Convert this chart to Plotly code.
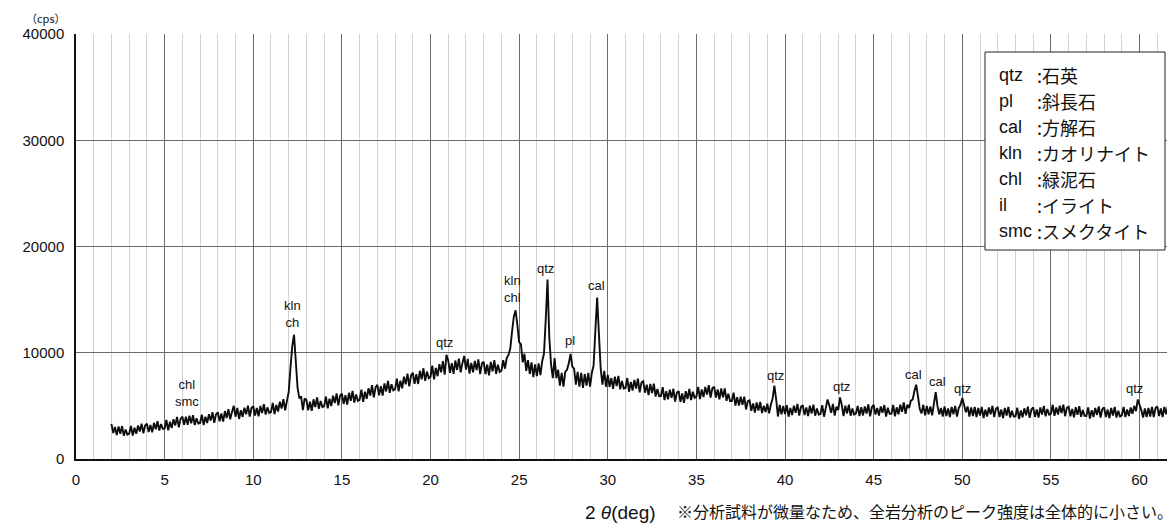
import plotly.graph_objects as go

# ---- data ----
# intensity (cps) sampled every 0.1 deg of 2-theta starting at 2.0 deg; one row per degree
intensity_rows = [
    [3300, 2440, 3020, 2250, 3060, 2380, 3100, 2180, 2780, 2300],  # 2
    [2380, 3120, 2200, 2940, 2370, 3160, 2590, 3330, 2410, 3150],  # 3
    [3320, 2540, 3200, 2510, 3400, 2800, 3550, 2680, 3290, 2830],  # 4
    [2880, 3680, 2700, 3500, 2910, 3750, 3160, 3960, 2980, 3780],  # 5
    [3980, 3220, 3990, 3220, 4080, 3360, 4130, 3190, 3830, 3330],  # 6
    [3390, 4180, 3190, 3980, 3380, 4210, 3610, 4400, 3410, 4200],  # 7
    [4400, 3540, 4280, 3520, 4510, 3850, 4690, 3730, 4420, 5000],  # 8
    [3980, 4800, 3770, 4590, 3960, 4830, 4200, 5020, 3990, 4800],  # 9
    [4960, 4080, 4800, 4020, 4990, 4320, 5150, 4180, 4860, 4340],  # 10
    [4410, 5280, 4230, 5100, 4470, 5390, 4750, 5630, 4580, 5470],  # 11
    [6300, 8600, 10600, 11700, 9200, 6700, 5700, 5900, 4600, 5700],  # 12
    [5550, 4590, 5390, 4540, 5620, 4880, 5790, 4720, 5460, 4890],  # 13
    [4970, 5880, 4760, 5670, 4980, 5950, 5260, 6170, 5050, 5960],  # 14
    [6160, 5180, 6000, 5130, 6230, 5470, 6400, 5310, 6070, 5480],  # 15
    [5560, 6520, 5380, 6340, 5650, 6670, 5970, 6940, 5790, 6750],  # 16
    [6980, 5990, 6850, 5970, 7120, 6360, 7340, 6230, 7030, 6450],  # 17
    [6540, 7560, 6360, 7380, 6660, 7740, 7020, 8040, 6840, 7860],  # 18
    [8120, 7070, 7990, 7060, 8300, 7490, 8540, 7360, 8230, 7610],  # 19
    [7720, 8790, 7500, 8570, 7790, 8930, 8150, 9220, 7930, 9800],  # 20
    [9250, 8100, 9030, 8010, 9270, 8380, 9440, 8160, 9020, 9700],  # 21
    [8410, 9420, 8030, 9040, 8160, 9240, 8360, 9370, 7980, 8990],  # 22
    [9150, 7980, 8890, 7870, 9130, 8240, 9300, 8020, 8880, 8190],  # 23
    [8300, 9300, 8500, 9500, 9800, 10400, 12000, 13400, 14000, 12600],  # 24
    [11000, 10800, 9100, 9900, 8300, 9300, 8000, 9100, 7700, 8900],  # 25
    [7800, 9000, 7900, 9200, 9900, 13100, 16900, 11500, 8900, 7600],  # 26
    [9500, 7600, 8400, 6900, 8100, 6800, 8200, 8400, 9000, 9900],  # 27
    [8700, 8500, 7000, 8200, 6800, 8100, 6700, 8000, 6900, 8100],  # 28
    [6800, 8100, 8800, 12100, 15200, 11800, 8500, 7000, 8300, 6800],  # 29
    [7920, 6780, 7620, 6600, 7760, 6860, 7830, 6560, 7350, 6640],  # 30
    [6690, 7620, 6330, 7260, 6450, 7440, 6630, 7560, 6270, 7200],  # 31
    [7330, 6240, 7000, 6020, 7070, 6210, 7090, 5880, 6580, 5900],  # 32
    [5920, 6760, 5540, 6380, 5610, 6530, 5760, 6610, 5400, 6250],  # 33
    [6390, 5370, 6160, 5280, 6390, 5650, 6600, 5540, 6330, 5760],  # 34
    [5870, 6790, 5640, 6540, 5820, 6790, 6060, 6950, 5770, 6650],  # 35
    [6810, 5780, 6540, 5610, 6640, 5800, 6650, 5470, 6140, 5460],  # 36
    [5460, 6240, 5030, 5810, 5030, 5870, 5090, 5870, 4660, 5440],  # 37
    [5510, 4540, 5220, 4360, 5320, 4570, 5380, 4330, 5000, 4420],  # 38
    [5200, 4300, 5100, 5700, 6900, 5600, 4000, 5100, 4200, 5000],  # 39
    [4240, 5070, 3980, 4810, 4140, 5020, 4340, 5180, 4080, 4920],  # 40
    [5070, 4140, 4860, 4030, 5020, 4290, 5120, 4080, 4760, 4190],  # 41
    [4240, 5070, 3980, 4810, 5600, 5020, 4340, 5180, 4080, 4920],  # 42
    [4600, 5800, 5100, 4030, 5020, 4290, 5120, 4080, 4760, 4190],  # 43
    [4300, 5000, 4050, 4880, 4100, 4950, 4280, 5150, 4020, 4870],  # 44
    [5100, 4200, 4800, 4080, 4950, 4350, 5080, 4000, 4820, 4250],  # 45
    [4250, 5090, 4010, 4860, 4210, 5110, 4450, 5320, 4250, 5120],  # 46
    [4800, 5500, 5600, 6400, 7000, 5900, 4700, 4300, 5100, 4100],  # 47
    [5000, 4200, 4950, 4100, 5200, 6300, 5000, 4200, 4800, 4000],  # 48
    [4950, 4050, 4750, 3950, 4900, 4200, 5000, 4000, 4800, 5100],  # 49
    [5750, 5100, 4400, 4950, 4000, 4850, 4050, 4900, 3950, 4800],  # 50
    [4100, 4900, 3850, 4650, 4000, 4850, 4200, 5000, 3950, 4750],  # 51
    [4850, 3950, 4650, 3850, 4800, 4100, 4900, 3900, 4550, 4000],  # 52
    [4020, 4820, 3770, 4570, 3920, 4770, 4120, 4920, 3870, 4670],  # 53
    [4850, 3960, 4670, 3890, 4860, 4180, 5000, 4020, 4700, 4180],  # 54
    [4280, 5100, 4060, 4850, 4180, 5010, 4330, 5110, 4030, 4810],  # 55
    [4920, 4020, 4720, 3920, 4870, 4170, 4970, 3970, 4620, 4070],  # 56
    [4050, 4850, 3800, 4600, 3950, 4800, 4150, 4950, 3900, 4700],  # 57
    [4850, 3950, 4650, 3850, 4800, 4100, 4900, 3900, 4550, 4000],  # 58
    [4100, 4900, 3950, 4650, 4050, 4850, 4250, 5000, 4500, 5600],  # 59
    [5100, 4600, 3900, 4750, 3950, 4800, 4000, 4900, 3950, 4800],  # 60
    [4950, 4050, 4750, 3950, 4900, 4200, 5000, 4000, 4650, 4100],  # 61
    [4600],                                                        # 62
]
start_deg = 2.0
step_deg = 0.1

# peak labels
peak_labels = ["chl<br>smc", "kln<br>ch", "qtz", "kln<br>chl", "qtz", "pl", "cal",
               "qtz", "qtz", "cal", "cal", "qtz", "qtz"]
peak_label_x = [6.26, 12.2, 20.8, 24.6, 26.5, 27.85, 29.35,
                39.45, 43.2, 47.25, 48.6, 50.0, 59.7]
peak_label_y = [6200, 13650, 11000, 16000, 17950, 11200, 16350,
                7900, 6800, 8000, 7250, 6600, 6650]

# mineral legend
legend_abbr = ["qtz", "pl", "cal", "kln", "chl", "il", "smc"]
legend_name = ["石英", "斜長石", "方解石", "カオリナイト", "緑泥石", "イライト", "スメクタイト"]

x_ticks = [0, 5, 10, 15, 20, 25, 30, 35, 40, 45, 50, 55, 60]
y_ticks = [0, 10000, 20000, 30000, 40000]

# ---- build ----
intensity = [v for row in intensity_rows for v in row]
two_theta = [round(start_deg + step_deg * i, 1) for i in range(len(intensity))]

# the page body has an 8px margin, so the figure is shrunk/offset to fit the window
OFF = 8
W, H = 1175 - OFF, 527 - OFF
L, R, T, B = 76 - OFF, 0, 34 - OFF, 68
PL, PB = 76, 459            # plot-area left / bottom in window pixels
pw, ph = W - L - R, H - T - B


def px(xp):
    return (xp - PL) / pw


def py(yp):
    return (PB - yp) / ph


LAT = "Liberation Sans, Arial, sans-serif"
JP = "Noto Sans CJK JP, sans-serif"

fig = go.Figure()
fig.add_trace(go.Scatter(x=two_theta, y=intensity, mode="lines",
                         line=dict(color="#0d0d0d", width=1.9, simplify=False),
                         hoverinfo="skip", showlegend=False))

ann = []
for t, xv, yv in zip(peak_labels, peak_label_x, peak_label_y):
    ann.append(dict(x=xv, y=yv, xref="x", yref="y", text=t, showarrow=False,
                    font=dict(family=LAT, size=13, color="#111"), align="center"))

# legend box content
for i, (a, n) in enumerate(zip(legend_abbr, legend_name)):
    yy = 75 + 26 * i
    ann.append(dict(x=px(997), y=py(yy), xref="paper", yref="paper", text=a,
                    showarrow=False, xanchor="left", yanchor="middle",
                    font=dict(family=LAT, size=18, color="#111")))
    ann.append(dict(x=px(1035), y=py(yy), xref="paper", yref="paper", text=":" + n,
                    showarrow=False, xanchor="left", yanchor="middle",
                    font=dict(family=JP, size=18, color="#111")))

# axis titles and note
ann.append(dict(x=px(46), y=py(8), xref="paper", yref="paper", text="（cps）",
                showarrow=False, xanchor="center", yanchor="top",
                font=dict(family=JP, size=11, color="#111")))
ann.append(dict(x=px(620), y=py(512), xref="paper", yref="paper",
                text="2 <i>θ</i>(deg)", showarrow=False, xanchor="center", yanchor="middle",
                font=dict(family=LAT, size=19, color="#111")))
ann.append(dict(x=px(675), y=py(511), xref="paper", yref="paper",
                text="※分析試料が微量なため、全岩分析のピーク強度は全体的に小さい。",
                showarrow=False, xanchor="left", yanchor="middle",
                font=dict(family=JP, size=16, color="#111")))

shapes = [dict(type="rect", xref="paper", yref="paper",
               x0=px(985), x1=px(1165), y0=py(250), y1=py(52),
               fillcolor="white", line=dict(color="#222", width=1), layer="above")]

fig.update_layout(
    width=W, height=H,
    margin=dict(l=L, r=R, t=T, b=B, pad=0),
    paper_bgcolor="white", plot_bgcolor="white",
    annotations=ann, shapes=shapes,
    xaxis=dict(range=[0, 62], tickvals=x_ticks, ticks="", showgrid=True,
               gridcolor="#6a6a6a", gridwidth=1,
               minor=dict(dtick=1, tick0=0, showgrid=True, gridcolor="#d2d2d2", gridwidth=1),
               showline=True, linecolor="#111", linewidth=1.5, zeroline=False,
               tickfont=dict(family=LAT, size=15, color="#111"), ticklabelstandoff=6),
    yaxis=dict(range=[0, 40000], tickvals=y_ticks, tickformat="d", ticks="",
               showgrid=True, gridcolor="#6a6a6a", gridwidth=1,
               showline=True, linecolor="#111", linewidth=1.5, zeroline=False,
               tickfont=dict(family=LAT, size=15, color="#111"), ticklabelstandoff=7),
)

fig.write_html("out.html")
